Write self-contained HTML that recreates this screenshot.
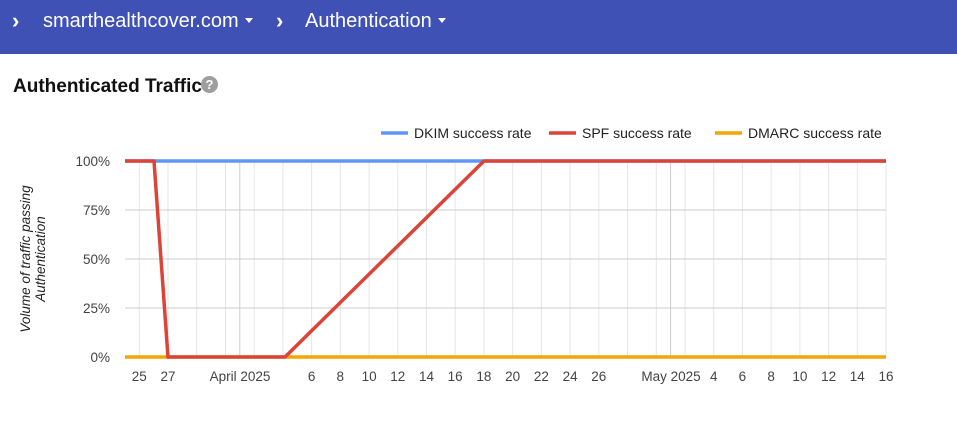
<!DOCTYPE html>
<html><head><meta charset="utf-8"><style>
body{margin:0;width:957px;height:440px;background:#fff;font-family:"Liberation Sans",sans-serif;overflow:hidden;position:relative}
.bar{position:absolute;left:0;top:0;width:957px;height:54px;background:#3f51b5;color:#fff;font-size:20px}
.bar span{position:absolute;top:10px}
.chev{font-weight:bold;font-size:22px;top:8px!important}
.car{display:inline-block;width:0;height:0;border-left:4px solid transparent;border-right:4px solid transparent;border-top:5px solid #fff;vertical-align:middle;margin-left:6px;margin-top:-2px}
h1{position:absolute;left:13px;top:76px;margin:0;font-size:19px;font-weight:bold;color:#111}
.q{position:absolute;left:201px;top:76px;width:17px;height:17px;border-radius:50%;background:#9e9e9e;color:#fff;font-size:13px;font-weight:bold;text-align:center;line-height:17px}
svg{position:absolute;left:0;top:0}
</style></head><body>
<div class="bar">
<span class="chev" style="left:12px">›</span>
<span style="left:43px">smarthealthcover.com<i class="car"></i></span>
<span class="chev" style="left:276px">›</span>
<span style="left:305px">Authentication<i class="car"></i></span>
</div>
<h1>Authenticated Traffic</h1><div class="q">?</div>
<svg width="957" height="440" font-family="Liberation Sans, sans-serif" font-size="13.5" fill="#444">
<g stroke="#e6e6e6" stroke-width="1">
<line x1="139.3" y1="161" x2="139.3" y2="357"/><line x1="168" y1="161" x2="168" y2="357"/><line x1="196.7" y1="161" x2="196.7" y2="357"/><line x1="225.5" y1="161" x2="225.5" y2="357"/>
<line x1="254.2" y1="161" x2="254.2" y2="357"/><line x1="282.9" y1="161" x2="282.9" y2="357"/><line x1="311.6" y1="161" x2="311.6" y2="357"/><line x1="340.3" y1="161" x2="340.3" y2="357"/><line x1="369.1" y1="161" x2="369.1" y2="357"/><line x1="397.8" y1="161" x2="397.8" y2="357"/><line x1="426.5" y1="161" x2="426.5" y2="357"/><line x1="455.2" y1="161" x2="455.2" y2="357"/><line x1="483.9" y1="161" x2="483.9" y2="357"/><line x1="512.7" y1="161" x2="512.7" y2="357"/><line x1="541.4" y1="161" x2="541.4" y2="357"/><line x1="570.1" y1="161" x2="570.1" y2="357"/><line x1="598.8" y1="161" x2="598.8" y2="357"/><line x1="627.5" y1="161" x2="627.5" y2="357"/><line x1="656.3" y1="161" x2="656.3" y2="357"/>
<line x1="685" y1="161" x2="685" y2="357"/><line x1="713.7" y1="161" x2="713.7" y2="357"/><line x1="742.4" y1="161" x2="742.4" y2="357"/><line x1="771.1" y1="161" x2="771.1" y2="357"/><line x1="799.9" y1="161" x2="799.9" y2="357"/><line x1="828.6" y1="161" x2="828.6" y2="357"/><line x1="857.3" y1="161" x2="857.3" y2="357"/><line x1="886" y1="161" x2="886" y2="357"/>
</g>
<g stroke="#cccccc" stroke-width="1">
<line x1="239.8" y1="161" x2="239.8" y2="357"/><line x1="670.6" y1="161" x2="670.6" y2="357"/>
<line x1="125" y1="210" x2="886" y2="210"/><line x1="125" y1="259" x2="886" y2="259"/><line x1="125" y1="308" x2="886" y2="308"/>
</g>
<line x1="125" y1="161" x2="886" y2="161" stroke="#5e97f6" stroke-width="3.5"/>
<line x1="125" y1="357" x2="886" y2="357" stroke="#f2a600" stroke-width="3.5"/>
<polyline points="125,161 154,161 168,357 285,357 484,161 886,161" fill="none" stroke="#db4437" stroke-width="3.5" stroke-linejoin="round"/>
<g text-anchor="end">
<text x="110" y="166">100%</text><text x="110" y="215">75%</text><text x="110" y="264">50%</text><text x="110" y="313">25%</text><text x="110" y="362">0%</text>
</g>
<text transform="translate(30,259) rotate(-90)" text-anchor="middle" font-style="italic" fill="#222"><tspan x="0" y="0">Volume of traffic passing</tspan><tspan x="0" y="15">Authentication</tspan></text>
<g text-anchor="middle">
<text x="139.3" y="381">25</text><text x="168" y="381">27</text><text x="240" y="381">April 2025</text>
<text x="311.6" y="381">6</text><text x="340.3" y="381">8</text><text x="369.1" y="381">10</text><text x="397.8" y="381">12</text><text x="426.5" y="381">14</text><text x="455.2" y="381">16</text><text x="483.9" y="381">18</text><text x="512.7" y="381">20</text><text x="541.4" y="381">22</text><text x="570.1" y="381">24</text><text x="598.8" y="381">26</text>
<text x="671" y="381">May 2025</text><text x="713.7" y="381">4</text><text x="742.4" y="381">6</text><text x="771.1" y="381">8</text><text x="799.9" y="381">10</text><text x="828.6" y="381">12</text><text x="857.3" y="381">14</text><text x="886" y="381">16</text>
</g>
<g fill="#222" font-size="14">
<line x1="381" y1="133" x2="408" y2="133" stroke="#5e97f6" stroke-width="3.5"/><text x="414" y="138">DKIM success rate</text>
<line x1="549" y1="133" x2="576" y2="133" stroke="#db4437" stroke-width="3.5"/><text x="582" y="138">SPF success rate</text>
<line x1="715" y1="133" x2="742" y2="133" stroke="#f2a600" stroke-width="3.5"/><text x="748" y="138">DMARC success rate</text>
</g>
</svg>
</body></html>
